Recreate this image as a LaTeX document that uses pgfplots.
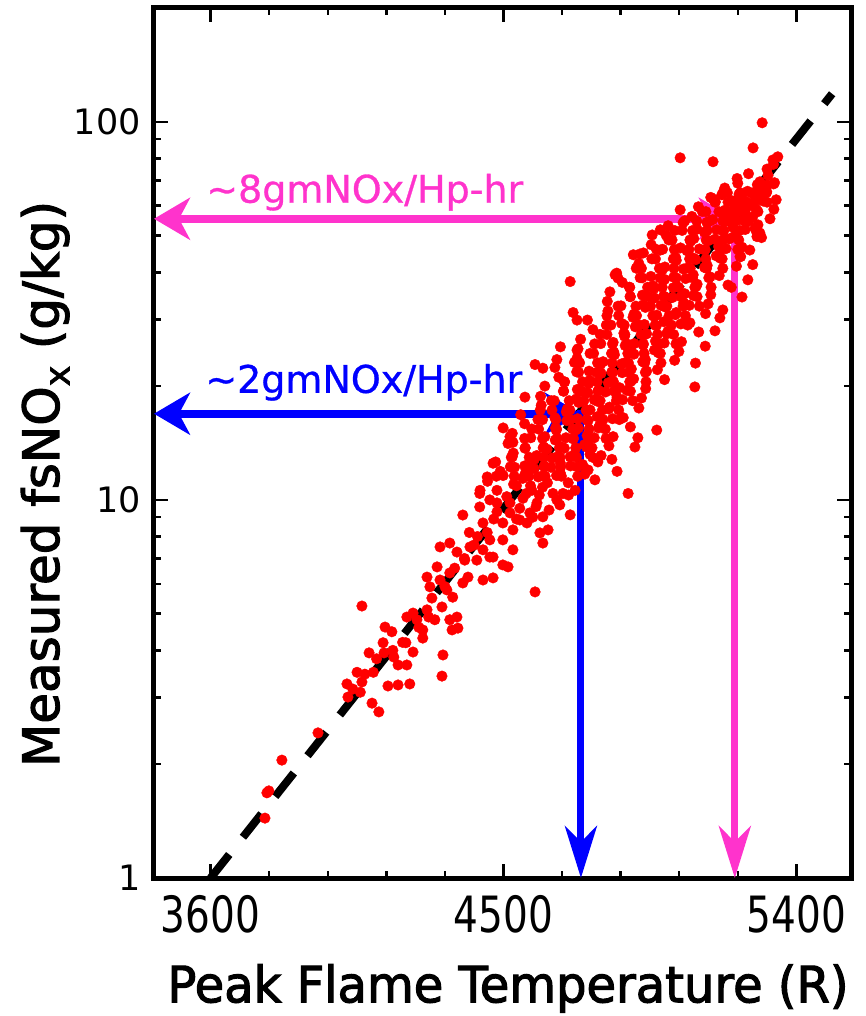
\documentclass[border=0pt]{standalone}
\usepackage{fontspec}
\setmainfont{DejaVu Sans}
\newfontfamily\narrowfont[FakeStretch=0.78]{DejaVu Sans}
\newfontfamily\notefont[FakeBold=0.8]{DejaVu Sans}
\newfontfamily\labelfont[FakeBold=2.2]{DejaVu Sans}
\newfontfamily\xlabelfont[FakeBold=2.2,FakeStretch=0.96]{DejaVu Sans}
\usepackage{pgfplots}
\pgfplotsset{compat=1.18}
\usetikzlibrary{arrows.meta}
\definecolor{nxpink}{RGB}{255,51,204}
\definecolor{nxblue}{RGB}{0,0,255}

\begin{document}
\begin{tikzpicture}
\begin{axis}[
  scale only axis, width=697pt, height=870pt,
  xmin=3426, xmax=5568, ymin=1, ymax=200, ymode=log,
  log ticks with fixed point,
  xtick={3600,4500,5400},
  minor xtick={3780,3960,4140,4320,4680,4860,5040,5220},
  ytick={1,10,100},
  minor ytick={2,3,4,5,6,7,8,9,20,30,40,50,60,70,80,90},
  tick align=inside, major tick length=14pt, minor tick length=7pt,
  every tick/.style={black, line width=2.5pt},
  axis line style={line width=5pt},
  /pgf/number format/1000 sep={},
  /pgf/number format/assume math mode=true,
  xticklabel style={font=\narrowfont\fontsize{50}{50}\selectfont, anchor=base, yshift=-54pt},
  yticklabel style={font=\fontsize{35}{35}\selectfont, anchor=east, inner sep=0pt, xshift=-13pt},
  xlabel={Peak Flame Temperature (R)},
  xlabel style={font=\xlabelfont\fontsize{50}{50}\selectfont, at={(axis description cs:0.508,-0.127)}, anchor=center},
  ylabel={Measured fsNO\textsubscript{x} (g/kg)},
  ylabel style={font=\labelfont\fontsize{50}{50}\selectfont, at={(axis description cs:-0.156,0.453)}, anchor=center},
  clip=false,
]
% measured points
\addplot[only marks, color=red, mark=*, mark size=5.3pt, mark options={draw=red, fill=red}] coordinates {
(3767,1.44)(3773,1.68)(3779,1.70)(3819,2.05)(3930,2.42)(4019,3.26)(4022,3.01)(4037,3.16)
(4065,3.30)(4074,3.46)(4096,2.90)(4117,2.75)(4065,5.24)(4087,3.94)(4130,4.19)(4133,3.94)
(4163,3.84)(4176,3.66)(4203,3.66)(4222,3.96)(4200,4.19)(4145,3.22)(4176,3.24)(4212,3.26)
(4136,4.61)(4157,4.48)(4203,4.90)(4222,5.02)(4252,4.53)(4252,4.31)(4234,4.82)(4314,3.89)
(4311,3.42)(4265,5.12)(4289,4.82)(4311,5.21)(4335,4.82)(4342,4.53)(4360,4.58)(4357,4.90)
(4265,6.25)(4274,5.89)(4305,6.14)(4326,5.78)(4344,5.53)(4296,6.65)(4335,6.41)(4375,6.03)
(4391,6.25)(4305,7.51)(4335,7.69)(4357,7.28)(4381,6.93)(4397,7.51)(4418,6.93)(4437,7.38)
(4458,7.06)(4437,6.14)(4468,6.22)(4498,6.73)(4514,6.65)(4597,5.71)(4621,7.69)(4612,8.18)
(4637,8.33)(4375,9.12)(4427,9.58)(4427,10.4)(4458,10.0)(4498,8.69)(4529,8.33)(4520,9.24)
(4480,9.82)(4520,9.82)(4581,9.24)(4603,9.82)(4587,10.6)(4621,9.02)(4652,10.4)(4683,10.4)
(4664,10.0)(4437,8.69)(4458,7.84)(4468,7.06)(4498,7.84)(4529,7.38)(4550,8.85)(4572,8.69)
(4280,5.5)(4320,5.9)(4350,6.6)(4380,7.0)(4410,7.6)(4420,8.0)(4395,8.2)(4450,8.2)
(4240,4.6)(4270,4.9)(4190,4.2)(4160,4.0)(4110,3.8)(4100,3.5)(4050,3.5)(4060,3.1)
(4480,9.3)(4550,9.5)(4600,9.6)(4640,9.4)(4510,10.2)(4560,10.1)(4610,10.3)(4470,8.9)(4540,8.9)(4590,9.0)
(4480,10.6)(4540,10.9)(4570,10.4)(4620,10.8)(4700,10.3)
(4451,11.2)(4499,11.6)(4531,11.0)(4559,11.4)(4583,10.9)(4607,11.5)(4635,11.1)(4663,11.6)(4699,11.1)
(4490,11.9)(4534,12.2)(4566,11.7)(4594,12.1)(4622,11.6)(4646,12.2)(4674,11.8)(4706,12.3)(4750,11.7)
(4476,12.6)(4527,13.0)(4565,12.3)(4595,12.8)(4625,12.3)(4650,12.9)(4675,12.5)(4705,13.0)(4743,12.4)
(4530,13.3)(4566,13.7)(4602,13.1)(4634,13.6)(4665,13.0)(4687,13.7)(4719,13.2)(4755,13.8)(4800,13.1)
(4514,14.1)(4584,14.6)(4624,13.8)(4659,14.4)(4679,13.8)(4714,14.5)(4749,14.0)(4779,14.6)(4824,13.9)
(4527,15.0)(4587,15.4)(4627,14.7)(4662,15.3)(4692,14.6)(4722,15.3)(4757,14.8)(4792,15.5)(4837,14.7)
(4565,15.9)(4620,16.3)(4660,15.5)(4695,16.2)(4730,15.5)(4760,16.2)(4795,15.7)(4835,16.4)(4890,15.6)
(4553,16.8)(4613,17.3)(4658,16.5)(4693,17.1)(4728,16.4)(4758,17.2)(4788,16.6)(4823,17.4)(4868,16.5)
(4616,17.8)(4656,18.3)(4696,17.4)(4731,18.1)(4766,17.3)(4791,18.2)(4826,17.6)(4866,18.4)(4916,17.5)
(4614,18.8)(4684,19.4)(4724,18.5)(4759,19.2)(4779,18.4)(4814,19.3)(4849,18.7)(4879,19.5)(4924,18.6)
(4627,20.0)(4687,20.5)(4727,19.6)(4762,20.3)(4792,19.5)(4822,20.4)(4857,19.8)(4892,20.6)(4937,19.7)
(4670,21.1)(4725,21.8)(4765,20.7)(4800,21.6)(4835,20.6)(4865,21.7)(4900,20.9)(4940,21.9)(4995,20.8)
(4658,22.4)(4718,23.1)(4763,21.9)(4798,22.8)(4833,21.8)(4863,22.9)(4893,22.2)(4928,23.2)(4973,22.1)
(4726,23.7)(4766,24.4)(4806,23.2)(4841,24.2)(4876,23.1)(4901,24.3)(4936,23.5)(4976,24.5)(5026,23.4)
(4729,25.1)(4799,25.9)(4839,24.6)(4874,25.6)(4894,24.5)(4929,25.7)(4964,24.9)(4994,26.0)(5039,24.7)
(4737,26.6)(4797,27.4)(4837,26.1)(4872,27.1)(4902,25.9)(4932,27.3)(4967,26.3)(5002,27.5)(5047,26.2)
(4775,28.2)(4830,29.0)(4870,27.6)(4905,28.7)(4940,27.5)(4970,28.9)(5005,27.9)(5045,29.2)(5100,27.8)
(4758,29.9)(4818,30.7)(4863,29.3)(4898,30.4)(4933,29.1)(4963,30.6)(4993,29.6)(5028,30.9)(5073,29.4)
(4821,31.6)(4861,32.6)(4901,31.0)(4936,32.3)(4971,30.8)(4996,32.4)(5031,31.3)(5071,32.7)(5121,31.1)
(4819,33.5)(4889,34.5)(4929,32.8)(4964,34.2)(4984,32.7)(5019,34.3)(5054,33.2)(5084,34.7)(5129,33.0)
(4827,35.5)(4887,36.5)(4927,34.8)(4962,36.2)(4992,34.6)(5022,36.4)(5057,35.1)(5092,36.7)(5137,34.9)
(4865,37.6)(4920,38.7)(4960,36.8)(4995,38.3)(5030,36.6)(5060,38.5)(5095,37.2)(5135,38.9)(5190,37.0)
(4848,39.8)(4908,41.0)(4953,39.0)(4988,40.6)(5023,38.8)(5053,40.8)(5083,39.4)(5118,41.2)(5163,39.2)
(4916,42.2)(4956,43.4)(4996,41.3)(5031,43.0)(5066,41.1)(5091,43.2)(5126,41.7)(5166,43.6)(5216,41.5)
(4919,44.7)(4989,46.0)(5029,43.8)(5064,45.6)(5084,43.6)(5119,45.8)(5154,44.2)(5184,46.2)(5229,44.0)
(4954,47.3)(5008,48.7)(5044,46.4)(5075,48.3)(5102,46.1)(5130,48.5)(5161,46.8)(5193,49.0)(5233,46.6)
(5000,50.1)(5049,51.6)(5085,49.1)(5117,51.1)(5149,48.9)(5176,51.4)(5207,49.6)(5243,51.9)(5293,49.4)
(5006,53.1)(5057,54.7)(5095,52.0)(5125,54.2)(5155,51.8)(5180,54.4)(5205,52.6)(5235,54.9)(5273,52.3)
(5079,56.2)(5111,57.9)(5143,55.1)(5171,57.4)(5199,54.8)(5219,57.6)(5247,55.7)(5279,58.2)(5319,55.4)
(5099,59.6)(5151,61.4)(5181,58.4)(5208,60.8)(5223,58.1)(5249,61.1)(5275,59.0)(5298,61.7)(5331,58.7)
(5137,63.1)(5175,65.0)(5202,61.8)(5224,64.4)(5244,61.5)(5263,64.7)(5286,62.5)(5309,65.3)(5338,62.2)
(5180,66.8)(5220,68.8)(5250,65.5)(5280,68.2)(5305,65.2)(5330,68.5)
(5218,70.8)(5253,72.9)(5288,69.4)(5313,72.2)(5333,69.0)
(5310,75.0)(5330,77.2)
(4478,11.55)(4533,11.55)(4578,11.55)(4628,11.55)(4678,11.55)(4728,11.55)
(4521,12.23)(4576,12.23)(4626,12.23)(4676,12.23)(4726,12.23)
(4524,12.96)(4579,12.96)(4624,12.96)(4674,12.96)(4724,12.96)(4774,12.96)
(4567,13.73)(4622,13.73)(4672,13.73)(4722,13.73)(4772,13.73)
(4565,14.54)(4620,14.54)(4665,14.54)(4715,14.54)(4765,14.54)(4815,14.54)
(4608,15.39)(4663,15.39)(4713,15.39)(4763,15.39)(4813,15.39)
(4606,16.31)(4661,16.31)(4706,16.31)(4756,16.31)(4806,16.31)(4856,16.31)
(4649,17.28)(4704,17.28)(4754,17.28)(4804,17.28)(4854,17.28)
(4647,18.30)(4702,18.30)(4747,18.30)(4797,18.30)(4847,18.30)(4897,18.30)
(4685,19.39)(4740,19.39)(4790,19.39)(4840,19.39)(4890,19.39)
(4688,20.53)(4743,20.53)(4788,20.53)(4838,20.53)(4888,20.53)(4938,20.53)
(4731,21.74)(4786,21.74)(4836,21.74)(4886,21.74)(4936,21.74)
(4734,23.04)(4789,23.04)(4834,23.04)(4884,23.04)(4934,23.04)(4984,23.04)
(4777,24.40)(4832,24.40)(4882,24.40)(4932,24.40)(4982,24.40)
(4780,25.85)(4835,25.85)(4880,25.85)(4930,25.85)(4980,25.85)(5030,25.85)
(4818,27.38)(4873,27.38)(4923,27.38)(4973,27.38)(5023,27.38)
(4816,29.00)(4871,29.00)(4916,29.00)(4966,29.00)(5016,29.00)(5066,29.00)
(4854,30.72)(4909,30.72)(4959,30.72)(5009,30.72)(5059,30.72)
(4852,32.54)(4907,32.54)(4952,32.54)(5002,32.54)(5052,32.54)(5102,32.54)
(4890,34.47)(4945,34.47)(4995,34.47)(5045,34.47)(5095,34.47)
(4888,36.51)(4943,36.51)(4988,36.51)(5038,36.51)(5088,36.51)(5138,36.51)
(4926,38.67)(4981,38.67)(5031,38.67)(5081,38.67)(5131,38.67)
(4924,40.96)(4979,40.96)(5024,40.96)(5074,40.96)(5124,40.96)(5174,40.96)
(4967,43.39)(5022,43.39)(5072,43.39)(5122,43.39)(5172,43.39)
(4970,45.96)(5025,45.96)(5070,45.96)(5120,45.96)(5170,45.96)(5220,45.96)
(5018,48.69)(5073,48.69)(5123,48.69)(5173,48.69)(5223,48.69)
(5026,51.57)(5081,51.57)(5126,51.57)(5176,51.57)(5226,51.57)(5276,51.57)
(5094,54.63)(5134,54.63)(5174,54.63)(5214,54.63)(5254,54.63)
(5122,57.86)(5162,57.86)(5202,57.86)(5242,57.86)(5282,57.86)
(5150,61.30)(5190,61.30)(5230,61.30)(5270,61.30)(5310,61.30)
(5188,64.93)(5228,64.93)(5268,64.93)(5308,64.93)
(4883,10.4)(4971,15.3)(4904,13.8)(4913,14.6)(4849,11.9)(4833,12.8)(5088,19.9)(4566,18.7)
(4499,15.5)(4597,22.8)(4621,22.3)(4664,23.5)(4675,25.4)(4726,24.9)(4428,10.6)(4450,11.5)
(4468,12.5)(4520,14.7)(4529,14.2)(4760,12.0)(4781,11.3)(4790,12.6)(4766,13.2)(4720,10.6)
(4673,9.70)(4705,9.13)(4705,37.8)(4714,31.3)(4843,39.4)(4852,38.6)(4726,29.9)(4899,44.5)
(4930,45.0)(4982,45.8)(4957,50.2)(4982,51.8)(5043,58.5)(5052,54.1)(5227,44.0)(5233,34.4)
(5174,31.8)(5165,30.3)(5251,38.2)(5266,41.9)(5257,45.8)(5200,36.5)(5150,28.0)(5120,25.5)
(5090,23.0)(5266,56.1)(5282,53.4)(5288,50.8)(5279,49.7)(5310,68.1)(5288,66.1)(5279,63.4)
(5233,64.1)(5218,62.2)(5248,59.6)(5171,64.1)(5144,62.5)(5196,57.4)(5187,55.1)
(5295,99.4)(5267,85.3)(5043,80.3)(5144,78.4)(5328,79.3)(5343,80.8)
};
% fit line
\addplot[black, line width=8pt, dash pattern=on 30pt off 22pt] coordinates {(3600,1) (5510,118.6)};
% guide arrows
\draw[nxpink, line width=8pt, {Stealth[length=36pt,width=42pt,inset=11pt]}-{Stealth[length=36pt,width=42pt,inset=11pt]}]
  (axis cs:3426,55.4) -- (axis cs:5211,55.4);
\draw[nxpink, line width=7pt, -{Stealth[length=52pt,width=32pt,inset=16pt]}]
  (axis cs:5211,56.5) -- (axis cs:5211,1);
\draw[nxblue, line width=8pt, {Stealth[length=36pt,width=42pt,inset=11pt]}-{Stealth[length=36pt,width=42pt,inset=11pt]}]
  (axis cs:3426,16.9) -- (axis cs:4738,16.9);
\draw[nxblue, line width=7pt, -{Stealth[length=52pt,width=32pt,inset=16pt]}]
  (axis cs:4738,17.3) -- (axis cs:4738,1);
\node[nxpink, anchor=base west, inner sep=0pt, font=\notefont\fontsize{38}{38}\selectfont]
  at (axis cs:3586,61.1) {\textasciitilde 8gmNOx/Hp-hr};
\node[nxblue, anchor=base west, inner sep=0pt, font=\notefont\fontsize{38}{38}\selectfont]
  at (axis cs:3583,19.2) {\textasciitilde 2gmNOx/Hp-hr};
\end{axis}
\pgfresetboundingbox
\path (-154pt,-138pt) rectangle (711pt,878pt);
\end{tikzpicture}
\end{document}
